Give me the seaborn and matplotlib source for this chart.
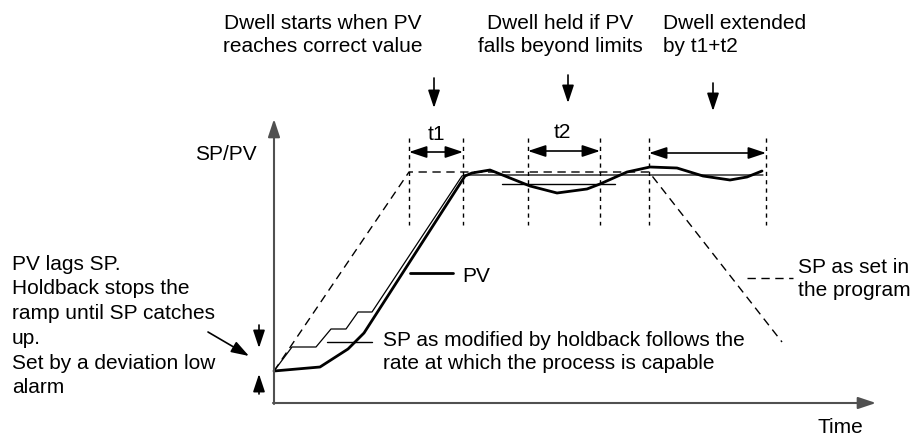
import matplotlib
matplotlib.use("Agg")
import matplotlib.pyplot as plt
import seaborn as sns

sns.set_theme(style="white")
plt.rcParams["font.family"] = ["Liberation Sans", "DejaVu Sans"]

# Programmed setpoint (time, value)
sp_prog_t = [0, 135, 375, 508]
sp_prog_v = [32, 231, 231, 61]

# Setpoint as modified by holdback
sp_hold_t = [0, 18, 42, 57, 72, 84, 98, 188, 191, 489]
sp_hold_v = [32, 56, 56, 74, 74, 91, 91, 227, 228, 228]

# Process value
pv_t = [0, 46, 74, 90, 191, 198, 216, 256, 283, 313, 326, 353, 376, 403, 429, 456, 473, 488]
pv_v = [32, 36, 54, 70, 227, 230, 233, 217, 210, 214, 219, 231, 236, 235, 227, 223, 226, 232]

# Lower holdback limit during the dwell
limit_t = [228, 341]
limit_v = [219, 219]

# Dwell interval boundaries
dwell_marks = [135, 189, 254, 326, 375, 492]

# Pixel origin of the axes corner
X0, Y0 = 274, 403
W, H = 916, 436


def at(px, py):
    return (px - X0, Y0 - py)


fig = plt.figure(figsize=(W / 100, H / 100), dpi=100)
ax = fig.add_axes([0, 0, 1, 1])
ax.set_xlim(-X0, W - X0)
ax.set_ylim(Y0 - H, Y0)
ax.axis("off")

ink = "black"
axis_col = "#505050"
fs = 15

# axes arrows
ax.annotate("", xy=at(274, 119), xytext=at(274, 404),
            arrowprops=dict(arrowstyle="-|>,head_length=0.9,head_width=0.3", color=axis_col, lw=1.5,
                            shrinkA=0, shrinkB=0))
ax.annotate("", xy=at(876, 403), xytext=at(273, 403),
            arrowprops=dict(arrowstyle="-|>,head_length=0.9,head_width=0.3", color=axis_col, lw=1.5,
                            shrinkA=0, shrinkB=0))
ax.text(*at(257, 155), "SP/PV", fontsize=fs, ha="right", va="center", color=ink)
ax.text(*at(840, 427), "Time", fontsize=fs, ha="center", va="center", color=ink)

# curves
sns.lineplot(x=sp_prog_t, y=sp_prog_v, sort=False, estimator=None, ax=ax,
             color=ink, lw=1.0, linestyle=(0, (6, 4)))
sns.lineplot(x=sp_hold_t, y=sp_hold_v, sort=False, estimator=None, ax=ax,
             color=ink, lw=0.9)
sns.lineplot(x=pv_t, y=pv_v, sort=False, estimator=None, ax=ax,
             color=ink, lw=2.0)
sns.lineplot(x=limit_t, y=limit_v, sort=False, estimator=None, ax=ax,
             color=ink, lw=1.0)

# dwell boundaries
for m in dwell_marks:
    ax.plot([m, m], [Y0 - 138, Y0 - 225], color=ink, lw=1.0, linestyle=(0, (3, 3)))

# interval arrows
dbl = dict(arrowstyle="<|-|>,head_length=0.9,head_width=0.3", color=ink, lw=1.2,
           shrinkA=0, shrinkB=0)
ax.annotate("", xy=(dwell_marks[0], Y0 - 152), xytext=(dwell_marks[1], Y0 - 152), arrowprops=dbl)
ax.annotate("", xy=(dwell_marks[2], Y0 - 151), xytext=(dwell_marks[3], Y0 - 151), arrowprops=dbl)
ax.annotate("", xy=(dwell_marks[4], Y0 - 153), xytext=(dwell_marks[5], Y0 - 153), arrowprops=dbl)
ax.text(*at(436, 134), "t1", fontsize=fs, ha="center", va="center", color=ink)
ax.text(*at(562, 133), "t2", fontsize=fs, ha="center", va="center", color=ink)

# top annotations with down arrows
down = dict(arrowstyle="-|>,head_length=0.9,head_width=0.3", color=ink, lw=1.2,
            shrinkA=0, shrinkB=0)
top_ls = 1.32
ax.text(*at(323, 35), "Dwell starts when PV\nreaches correct value", fontsize=fs,
        ha="center", va="center", color=ink, linespacing=top_ls)
ax.text(*at(560, 35), "Dwell held if PV\nfalls beyond limits", fontsize=fs,
        ha="center", va="center", color=ink, linespacing=top_ls)
ax.text(*at(663, 35), "Dwell extended\nby t1+t2", fontsize=fs,
        ha="left", va="center", color=ink, linespacing=top_ls)
ax.annotate("", xy=at(434, 108), xytext=at(434, 78), arrowprops=down)
ax.annotate("", xy=at(568, 103), xytext=at(568, 75), arrowprops=down)
ax.annotate("", xy=at(713, 111), xytext=at(713, 83), arrowprops=down)

# left explanation
ax.text(*at(12, 326), "PV lags SP.\nHoldback stops the\nramp until SP catches\nup.\nSet by a deviation low\nalarm",
        fontsize=fs, ha="left", va="center", color=ink, linespacing=1.38)
ax.annotate("", xy=at(249, 356), xytext=at(208, 332), arrowprops=down)
ax.annotate("", xy=at(259, 348), xytext=at(259, 325), arrowprops=down)
ax.annotate("", xy=at(259, 374), xytext=at(259, 394), arrowprops=down)

# curve labels
ax.plot(*zip(at(410, 273), at(453, 273)), color=ink, lw=2.0)
ax.text(*at(462, 277), "PV", fontsize=fs, ha="left", va="center", color=ink)
ax.plot(*zip(at(327, 342), at(372, 342)), color=ink, lw=1.0)
ax.text(*at(383, 352), "SP as modified by holdback follows the\nrate at which the process is capable",
        fontsize=fs, ha="left", va="center", color=ink, linespacing=1.23)
ax.plot(*zip(at(747, 278), at(793, 278)), color=ink, lw=1.0, linestyle=(0, (6, 4)))
ax.text(*at(798, 279), "SP as set in\nthe program", fontsize=fs, ha="left", va="center",
        color=ink, linespacing=1.25)

fig.savefig("out.png", dpi=100, facecolor="white")
